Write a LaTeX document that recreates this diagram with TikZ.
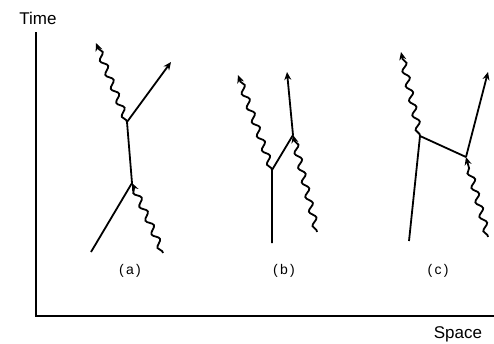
\documentclass[tikz,border=0pt]{standalone}
\usepackage{fontspec}
\setmainfont{Liberation Sans}
\usetikzlibrary{decorations.pathmorphing,arrows.meta}
\begin{document}
\begin{tikzpicture}[x=1pt,y=-1pt,
  line/.style={line width=1.8pt},
  arr/.style={line width=1.8pt,-{Stealth[length=8pt,width=7pt]}},
  photon/.style={line width=1.8pt,decorate,decoration={snake,amplitude=3pt,segment length=15pt,pre length=2pt,post length=5pt}},
  photonarr/.style={photon,-{Stealth[length=8pt,width=7pt]}},
  lbl/.style={font=\fontsize{14}{16}\selectfont},
  axlbl/.style={font=\fontsize{17}{20}\selectfont}]
\useasboundingbox (0,0) rectangle (494,343);
% axes
\coordinate (o) at (36,316);
\coordinate (ytop) at (36,32);
\coordinate (xend) at (494,316);
\draw[line width=1.6pt] (ytop) -- (o) -- (xend);
\node[axlbl] (time) at (38,18) {Time};
\node[axlbl] (space) at (458,334) {Space};
% (a)
\coordinate (a1) at (132,183);
\coordinate (a2) at (127,122);
\coordinate (ain) at (91,252);
\coordinate (agin) at (163,253);
\coordinate (aout) at (171,62);
\coordinate (agout) at (96,43);
\draw[line] (ain) -- (a1) -- (a2);
\draw[photonarr] (agin) -- (a1);
\draw[arr] (a2) -- (aout);
\draw[photonarr] (a2) -- (agout);
\node[lbl] (la) at (130,271) {(\,a\,)};
% (b)
\coordinate (b1) at (272,170);
\coordinate (b2) at (293,135);
\coordinate (bin) at (272,243);
\coordinate (bgin) at (317,232);
\coordinate (bout) at (287,72);
\coordinate (bgout) at (238,75);
\draw[line] (bin) -- (b1) -- (b2);
\draw[photonarr] (b1) -- (bgout);
\draw[photonarr] (bgin) -- (b2);
\draw[arr] (b2) -- (bout);
\node[lbl] (lb) at (284,271) {(\,b\,)};
% (c)
\coordinate (c1) at (420,136);
\coordinate (c2) at (466,157);
\coordinate (cin) at (409,241);
\coordinate (cgin) at (488,237);
\coordinate (cout) at (488,72);
\coordinate (cgout) at (401,52);
\draw[line] (cin) -- (c1) -- (c2);
\draw[photonarr] (c1) -- (cgout);
\draw[photonarr] (cgin) -- (c2);
\draw[arr] (c2) -- (cout);
\node[lbl] (lc) at (438,271) {(\,c\,)};
\end{tikzpicture}
\end{document}
